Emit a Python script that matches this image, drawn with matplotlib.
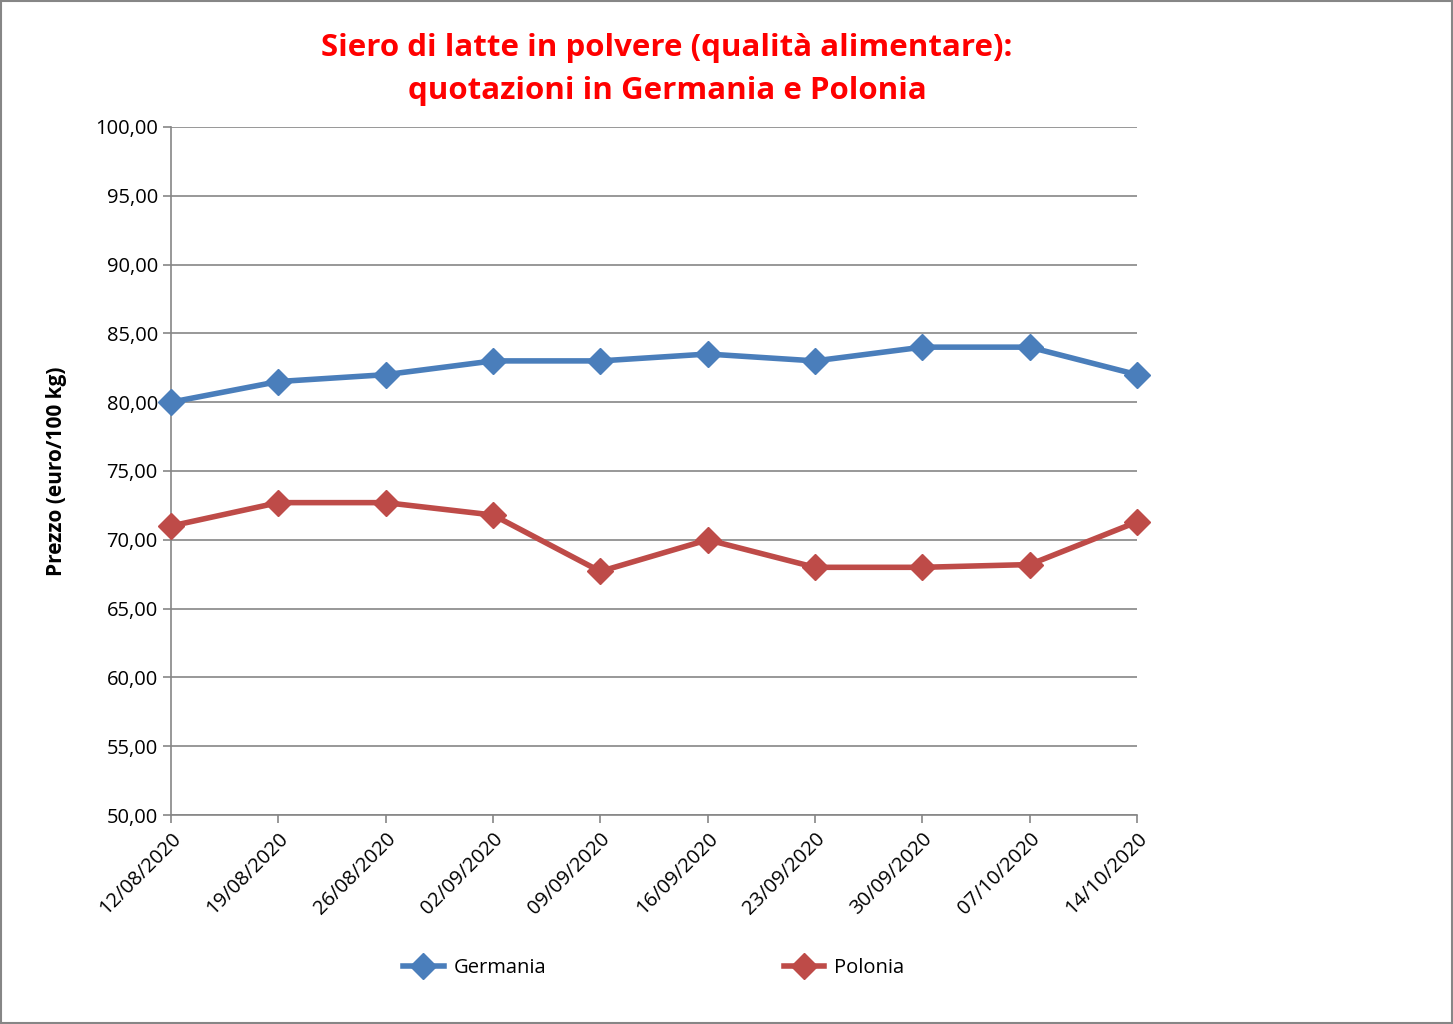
import numpy as np
import matplotlib.pyplot as plt
from matplotlib.patches import Rectangle

dates = ['12/08/2020', '19/08/2020', '26/08/2020', '02/09/2020', '09/09/2020',
         '16/09/2020', '23/09/2020', '30/09/2020', '07/10/2020', '14/10/2020']
germania = [80.0, 81.5, 82.0, 83.0, 83.0, 83.5, 83.0, 84.0, 84.0, 82.0]
polonia = [71.0, 72.7, 72.7, 71.8, 67.7, 70.0, 68.0, 68.0, 68.2, 71.3]
yticks = np.arange(50, 101, 5)

plt.rcParams['font.family'] = ['Open Sans', 'DejaVu Sans']

fig = plt.figure(figsize=(14.53, 10.24), dpi=100)
ax = fig.add_axes([0.1177, 0.2041, 0.6648, 0.6719])

x = np.arange(len(dates))
ax.plot(x, germania, color='#4a7ebb', lw=4, marker='D', ms=13, label='Germania',
        zorder=3, clip_on=False)
ax.plot(x, polonia, color='#be4b48', lw=4, marker='D', ms=13, label='Polonia',
        zorder=3, clip_on=False)

ax.set_xlim(0, len(dates) - 1)
ax.set_ylim(50, 100)
ax.set_yticks(yticks)
ax.yaxis.set_major_formatter(plt.FuncFormatter(lambda v, p: ('%.2f' % v).replace('.', ',')))
ax.set_xticks(x)
ax.set_xticklabels(dates, rotation=45, ha='right', rotation_mode='anchor')
ax.tick_params(axis='both', labelsize=14.5, color='#868686', length=6, width=1.2)
ax.tick_params(axis='x', pad=4)
ax.grid(axis='y', color='#868686', lw=1.2)
ax.set_axisbelow(True)
for s in ['top', 'right']:
    ax.spines[s].set_visible(False)
for s in ['left', 'bottom']:
    ax.spines[s].set_color('#868686')
    ax.spines[s].set_linewidth(1.2)

ax.set_ylabel('Prezzo (euro/100 kg)', fontsize=15, fontweight='bold', labelpad=20)

fig.text(0.459, 0.968, 'Siero di latte in polvere (qualità alimentare):\nquotazioni in Germania e Polonia',
         color='red', fontsize=22.5, fontweight='bold', ha='center', va='top', linespacing=1.58)

fig.legend(loc='center', bbox_to_anchor=(0.45, 0.055), ncol=2, frameon=False,
           fontsize=14.5, columnspacing=11.8, handlelength=2.0, handletextpad=0.5)

fig.patches.append(Rectangle((0.0005, 0.0005), 0.999, 0.999, transform=fig.transFigure,
                             fill=False, edgecolor='#868686', lw=1.5))

fig.savefig('out.png', dpi=100)
